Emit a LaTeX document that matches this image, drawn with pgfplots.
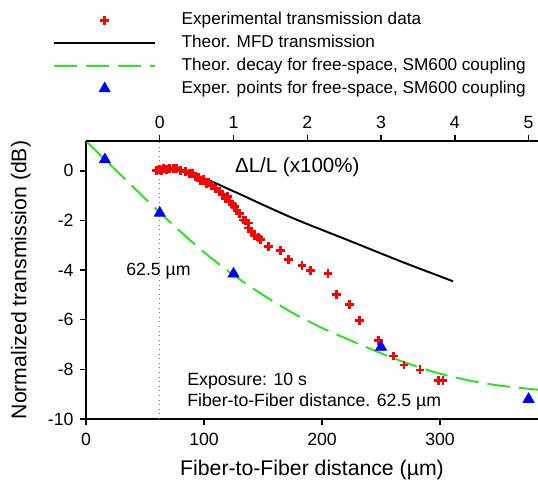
\documentclass[border=0pt]{standalone}
\usepackage{fontspec}
\setmainfont{Liberation Sans}
\usepackage{pgfplots}
\pgfplotsset{compat=1.18}
\usetikzlibrary{calc}
\definecolor{lgreen}{RGB}{40,230,30}
\definecolor{dotgray}{RGB}{120,120,120}

\begin{document}
\begin{tikzpicture}
\pgfplotsset{
  every axis/.append style={
    width=255.4pt, height=157.1pt, scale only axis,
    ymin=-10, ymax=1.2,
    /pgf/number format/assume math mode=true,
    tick label style={font=\fontsize{10}{12}\selectfont},
    label style={font=\fontsize{12}{14}\selectfont},
    tick align=outside, major tick length=3.5pt,
    every tick/.style={black, line width=0.8pt},
    axis line style={line width=0.8pt, black},
  }
}
\begin{axis}[name=main,
  xmin=0, xmax=383,
  axis x line*=bottom, axis y line*=left,
  xtick={0,100,200,300}, ytick={-10,-8,...,0},
  xticklabel style={yshift=-1.2pt},
  xlabel={Fiber-to-Fiber distance (µm)},
  ylabel={Normalized transmission (dB)},
  xlabel style={at={(axis description cs:0.5,-0.185)}, anchor=center},
  ylabel style={at={(axis description cs:-0.144,0.5)}, anchor=center},
  legend image code/.code={\draw[mark repeat=2,mark phase=2,#1] plot coordinates {(0cm,0cm) (1cm,0cm) (2cm,0cm)};},
  legend style={draw=none, fill=none, at={(axis description cs:-0.073,1.466)}, anchor=north west,
    font=\fontsize{9.7}{11.6}\selectfont, inner sep=0pt, row sep=3.5pt,
    nodes={inner sep=0pt, text height=7.4pt, text depth=2pt},
    /tikz/every odd column/.append style={column sep=14.5pt}},
  legend cell align=left,
]
\addplot[forget plot, dotgray, dotted, line width=0.6pt] coordinates {(62.5,-10) (62.5,1.2)};

\addplot[only marks, red, mark=+, mark size=2.5pt, mark options={line width=1.6pt}] coordinates {
(60,0.02) (62.5,0.05) (64,0.0) (66,0.1) (68,0.05) (71,0.08) (74,0.1) (77,0.1) (80,0.03)
(84,-0.03) (88,-0.1) (90,-0.12) (92.5,-0.23) (95,-0.25) (97,-0.4) (99.5,-0.36) (102,-0.5)
(104,-0.47) (106.5,-0.6) (110,-0.7) (113.5,-0.83) (116,-0.97) (118,-1.1) (120,-1.05)
(122,-1.24) (124,-1.37) (126,-1.45) (128,-1.6) (130,-1.72) (133,-1.98) (135,-2.0)
(137.5,-2.1) (138,-2.3) (140.5,-2.45) (143,-2.6) (146,-2.7) (148,-2.78) (154.5,-3.05)
(164.5,-3.22) (171.5,-3.56) (183,-3.8) (190,-4.03) (205,-4.13) (212.5,-4.98) (223.5,-5.4)
(231.5,-6.03) (247.5,-6.82) (260.5,-7.46) (269.5,-7.82) (283,-8.02) (298.5,-8.43) (302.5,-8.43)
};
\addlegendentry{Experimental transmission data}

\addplot[black, line width=1.1pt, smooth] coordinates {
(62.5,0) (70,0.02) (77,0.02) (85,-0.05) (92,-0.15) (100,-0.3) (110,-0.5) (120,-0.72)
(130,-0.93) (150,-1.37) (175,-1.9) (200,-2.38) (225,-2.85) (250,-3.33) (275,-3.8)
(300,-4.25) (311,-4.45)
};
\addlegendentry{Theor. MFD transmission}

\addplot[lgreen, line width=1.1pt, dash pattern=on 13pt off 5pt, smooth] coordinates {
(0,1.2) (20,0.27) (40,-0.65) (60,-1.57) (80,-2.45) (100,-3.28) (125,-4.2) (150,-5.0)
(175,-5.72) (200,-6.33) (225,-6.85) (250,-7.35) (275,-7.8) (300,-8.17) (325,-8.45)
(350,-8.65) (383,-8.82)
};
\addlegendentry{Theor. decay for free-space, SM600 coupling}

\addplot[only marks, blue, mark=triangle*, mark size=3.6pt] coordinates {
(16,0.45) (62.5,-1.7) (125,-4.15) (250,-7.1) (375,-9.2)
};
\addlegendentry{Exper. points for free-space, SM600 coupling}

\node[font=\fontsize{11.6}{13}\selectfont, inner sep=0pt] at (axis cs:179,0.16) {ΔL/L (x100\%)};
\node[font=\fontsize{10}{12}\selectfont, inner sep=0pt] at (axis cs:61.4,-4.03) {62.5 µm};
\node[font=\fontsize{10}{12}\selectfont, inner sep=0pt, anchor=west] at (axis cs:85.6,-8.47) {Exposure: 10 s};
\node[font=\fontsize{10}{12}\selectfont, inner sep=0pt, anchor=west] at (axis cs:85.6,-9.31) {Fiber-to-Fiber distance. 62.5 µm};
\end{axis}
\begin{axis}[
  xmin=-1, xmax=5.128,
  axis x line*=top, axis y line=none,
  xtick={0,...,5},
]
\end{axis}
\pgfresetboundingbox
\path ($(main.south west)+(-48.6pt,-35.0pt)$) rectangle ($(main.north east)+(0pt,79.7pt)$);
\end{tikzpicture}
\end{document}
